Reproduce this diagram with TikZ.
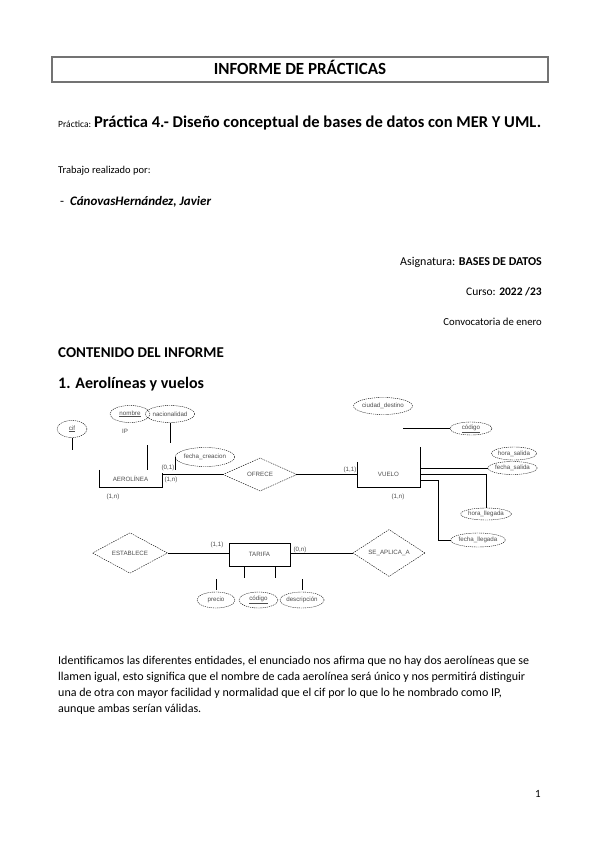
\documentclass[tikz,border=0pt]{standalone}
\usepackage{fontspec}
\setmainfont{Carlito}
\newfontfamily\diagfont{Liberation Sans}
\usetikzlibrary{shapes.geometric}

\begin{document}
\begin{tikzpicture}[x=1pt,y=-1pt,
  er/.style={font=\diagfont\fontsize{6.2}{7}\selectfont, text=black!70},
  attrib/.style={er, draw, dash pattern=on 1.2pt off 0.9pt, ellipse, inner sep=0pt, minimum height=17pt},
  relat/.style={er, draw, dash pattern=on 1.5pt off 1pt, diamond, inner sep=0pt},
  card/.style={er, inner sep=0pt},
  entity/.style={er, inner sep=0pt}]
  \useasboundingbox (0,0) rectangle (599,848);

  % cabecera
  \draw [black!55, line width=1.2pt] (52,57) rectangle (548,82);
  \node [anchor=base, font=\bfseries\fontsize{17}{20}\selectfont] (titulo) at (300,75) {INFORME DE PRÁCTICAS};
  \node [anchor=base west, inner sep=0pt] (practica) at (58,128)
    {{\fontsize{9.5}{12}\selectfont Práctica:} {\bfseries\fontsize{16.5}{19}\selectfont Práctica 4.- Diseño conceptual de bases de datos con MER Y UML.}};
  \node [anchor=base west, inner sep=0pt, font=\fontsize{10.5}{12}\selectfont] (trabajo) at (58,173) {Trabajo realizado por:};
  \node [anchor=base west, inner sep=0pt, font=\fontsize{13}{15}\selectfont] (autor) at (60,205) {-\ \ \textbf{\textit{CánovasHernández, Javier}}};
  \node [anchor=base east, inner sep=0pt, font=\fontsize{12}{14}\selectfont] (asig) at (542,265) {Asignatura: \textbf{BASES DE DATOS}};
  \node [anchor=base east, inner sep=0pt, font=\fontsize{11.5}{14}\selectfont] (curso) at (542,295) {Curso: \textbf{2022 /23}};
  \node [anchor=base east, inner sep=0pt, font=\fontsize{10.7}{14}\selectfont] (conv) at (542,325) {Convocatoria de enero};
  \node [anchor=base west, inner sep=0pt, font=\bfseries\fontsize{15}{18}\selectfont] (contenido) at (58,357) {CONTENIDO DEL INFORME};
  \node [anchor=base west, inner sep=0pt, font=\bfseries\fontsize{16}{19}\selectfont] (seccion) at (58,388) {1. Aerolíneas y vuelos};

  % diagrama E/R: aerolinea
  \node [attrib, minimum width=30pt] (cif) at (72,429) {\underline{cif}};
  \node [attrib, minimum width=40pt] (nombre) at (130,414) {\underline{nombre}};
  \node [attrib, minimum width=45pt] (nacion) at (170,414) {nacionalidad};
  \node [er, inner sep=0pt] (ip) at (125,431) {IP};
  \node [attrib, minimum width=50pt, minimum height=19pt] (fcrea) at (205,457) {fecha\_creacion};
  \node [entity, minimum width=63pt, minimum height=17pt] (aero) at (130.5,478.5) {AEROLÍNEA};
  \draw (aero.north west) |- (aero.south east) -- ++(0,-14);
  \draw (cif.south) -- ++(0,12);
  \draw (nacion.south) -- ++(0,20);
  \draw ([xshift=16.5pt]aero.north) -- ++(0,-25);
  \draw (fcrea.west) -- ++(0,13);
  \node [card] (c01) at (168,468) {(0,1)};
  \node [card] (c1na) at (171,480) {(1,n)};
  \node [card] (c1nb) at (113,497) {(1,n)};

  % ofrece y vuelo
  \node [relat, minimum width=74pt, minimum height=33pt] (ofrece) at (260,474.5) {OFRECE};
  \node [entity, minimum width=63pt, minimum height=25pt] (vuelo) at (388.5,474.5) {VUELO};
  \draw (vuelo.north west) |- (vuelo.south east) -- ++(0,-40);
  \draw (aero.east |- ofrece.west) -- (ofrece.west);
  \draw (ofrece.east) -- (vuelo.west |- ofrece.east);
  \node [card] (c11a) at (350,470) {(1,1)};
  \node [card] (c1nc) at (398,497) {(1,n)};

  \node [attrib, minimum width=40pt] (cdest) at (383,406) {ciudad\_destino};
  \node [attrib, minimum width=42pt, minimum height=13pt] (codv) at (471,428.5) {\underline{código}};
  \coordinate (vstub) at (403,428.5);
  \draw (vstub) -- (codv.west);
  \node [attrib, minimum width=42pt, minimum height=13pt] (hsal) at (514,453.5) {hora\_salida};
  \node [attrib, minimum width=42pt, minimum height=13pt] (fsal) at (512.5,468) {fecha\_salida};
  \node [attrib, minimum width=48pt, minimum height=12pt] (hlleg) at (486,514) {hora\_llegada};
  \node [attrib, minimum width=50pt, minimum height=14pt] (flleg) at (478,540) {fecha\_llegada};
  \draw (vuelo.east |- fsal.west) -- (fsal.west);
  \draw (vuelo.east) -| (hlleg.north);
  \draw ([yshift=-5.5pt]vuelo.east) -- ++(18,0) |- (flleg.west);

  % tarifa
  \node [relat, minimum width=75pt, minimum height=36pt] (estab) at (130,553) {ESTABLECE};
  \node [entity, draw, minimum width=61pt, minimum height=23pt] (tarifa) at (259.5,554.5) {TARIFA};
  \node [relat, minimum width=72pt, minimum height=36pt] (aplica) at (389,553) {SE\_APLICA\_A};
  \draw (estab.east) -- (tarifa.west |- estab.east);
  \draw (tarifa.east |- aplica.west) -- (aplica.west);
  \node [card] (c11b) at (217,545) {(1,1)};
  \node [card] (c0n) at (300,550) {(0,n)};
  \draw ([xshift=-15.5pt]tarifa.south) -- ++(0,12);
  \draw ([xshift=15.5pt]tarifa.south) -- ++(0,12);
  \node [attrib, minimum width=38pt, minimum height=16pt] (precio) at (216,600) {precio};
  \node [attrib, minimum width=39pt, minimum height=16pt] (codt) at (258.5,600) {\underline{código}};
  \node [attrib, minimum width=38pt, minimum height=16pt] (desc) at (302,600) {descripción};
  \draw ([yshift=2pt]precio.north) -- ++(0,-11);
  \draw ([yshift=2pt]desc.north) -- ++(0,-11);

  % texto
  \node [anchor=north west, inner sep=0pt, align=left, font=\fontsize{12}{16}\selectfont] (parrafo) at (58,656)
    {Identificamos las diferentes entidades, el enunciado nos afirma que no hay dos aerolíneas que se\\
     llamen igual, esto significa que el nombre de cada aerolínea será único y nos permitirá distinguir\\
     una de otra con mayor facilidad y normalidad que el cif por lo que lo he nombrado como IP,\\
     aunque ambas serían válidas.};
  \node [anchor=base, inner sep=0pt, font=\fontsize{11}{13}\selectfont] (pagina) at (538,797) {1};
\end{tikzpicture}
\end{document}
